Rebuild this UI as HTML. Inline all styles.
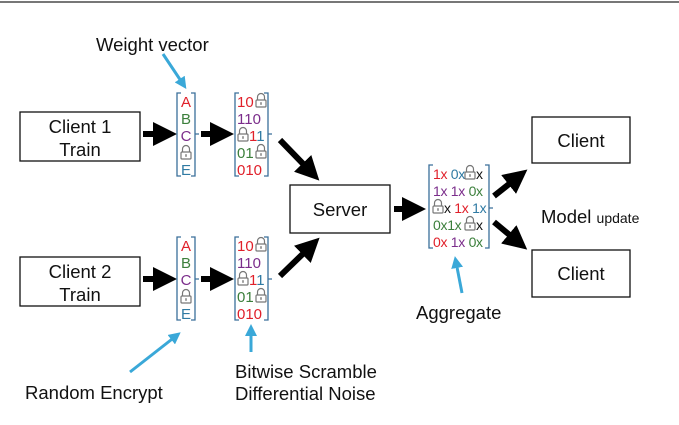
<!DOCTYPE html>
<html><head><meta charset="utf-8"><style>
html,body{margin:0;padding:0;background:#fff}
svg{display:block;font-family:"Liberation Sans",sans-serif}
.r{fill:#e0202a}.g{fill:#3b7f3b}.p{fill:#7b2d8b}.b{fill:#2f7aa3}.k{fill:#111}
</style></head><body>
<svg width="679" height="425" viewBox="0 0 679 425" xmlns="http://www.w3.org/2000/svg">
<defs>
<marker id="ah" markerWidth="4" markerHeight="4" refX="2" refY="2" orient="auto" markerUnits="strokeWidth"><path d="M0,0 L4,2 L0,4 z" fill="#000"/></marker>
<marker id="bh" markerWidth="4" markerHeight="4" refX="2" refY="2" orient="auto" markerUnits="strokeWidth"><path d="M0,0 L4,2 L0,4 z" fill="#3aa8d8"/></marker>
<g id="lk"><path d="M-3.5,0 v-3 a3.5,3.5 0 0 1 7,0 v3" fill="none" stroke="#777" stroke-width="1.2"/><rect x="-5" y="0" width="10" height="7" rx="1" fill="#fff" stroke="#777" stroke-width="1.2"/><rect x="-0.7" y="2.2" width="1.4" height="2.6" fill="#777"/></g>
</defs>
<line x1="0" y1="2" x2="679" y2="2" stroke="#777" stroke-width="2"/>
<g font-size="18.5" fill="#111">
<text x="96" y="51">Weight vector</text>
<text x="25" y="399">Random Encrypt</text>
<text x="235" y="378">Bitwise Scramble</text>
<text x="235" y="400">Differential Noise</text>
<text x="416" y="319">Aggregate</text>
<text x="541" y="223">Model <tspan font-size="14">update</tspan></text>
</g>
<g stroke="#3aa8d8" stroke-width="3">
<line x1="163" y1="54" x2="183" y2="84" marker-end="url(#bh)"/>
<line x1="130" y1="372" x2="176" y2="336" marker-end="url(#bh)"/>
<line x1="251" y1="352" x2="251" y2="330" marker-end="url(#bh)"/>
<line x1="462" y1="293" x2="456" y2="262" marker-end="url(#bh)"/>
</g>
<g fill="#fff" stroke="#111" stroke-width="1.3">
<rect x="20" y="112" width="120" height="49"/>
<rect x="20" y="257" width="120" height="49"/>
<rect x="290" y="185" width="100" height="48"/>
<rect x="532" y="117" width="98" height="46"/>
<rect x="532" y="250" width="98" height="47"/>
</g>
<g font-size="18.5" fill="#111" text-anchor="middle">
<text x="80" y="133">Client 1</text><text x="80" y="156">Train</text>
<text x="80" y="278">Client 2</text><text x="80" y="301">Train</text>
<text x="340" y="216">Server</text>
<text x="581" y="147">Client</text>
<text x="581" y="280">Client</text>
</g>
<g stroke="#000" stroke-width="6">
<line x1="143" y1="134" x2="165" y2="134" marker-end="url(#ah)"/>
<line x1="201" y1="134" x2="222" y2="134" marker-end="url(#ah)"/>
<line x1="143" y1="279" x2="165" y2="279" marker-end="url(#ah)"/>
<line x1="201" y1="279" x2="222" y2="279" marker-end="url(#ah)"/>
<line x1="280" y1="140" x2="311" y2="172" marker-end="url(#ah)"/>
<line x1="280" y1="276" x2="311" y2="246" marker-end="url(#ah)"/>
<line x1="394" y1="209" x2="414" y2="209" marker-end="url(#ah)"/>
<line x1="494" y1="196" x2="518" y2="177" marker-end="url(#ah)"/>
<line x1="494" y1="222" x2="518" y2="242" marker-end="url(#ah)"/>
</g>
<g fill="none" stroke="#3a6f9a" stroke-width="1.3">
<path d="M181,93 h-4 v83 h4 M191,93 h4 v83 h-4 M195,134 h4"/>
<path d="M181,237 h-4 v83 h4 M191,237 h4 v83 h-4 M195,279 h4"/>
<path d="M239,93 h-4 v83 h4 M264,93 h4 v83 h-4 M268,134 h4"/>
<path d="M239,237 h-4 v83 h4 M264,237 h4 v83 h-4 M268,279 h4"/>
<path d="M433,165 h-4 v83 h4 M485,165 h4 v83 h-4 M489,208 h4"/>
</g>
<g font-size="15" text-anchor="middle">
<text x="186" y="107" class="r">A</text><text x="186" y="124" class="g">B</text><text x="186" y="141" class="p">C</text><text x="186" y="175" class="b">E</text>
<text x="186" y="251" class="r">A</text><text x="186" y="268" class="g">B</text><text x="186" y="285" class="p">C</text><text x="186" y="319" class="b">E</text>
</g>
<use href="#lk" x="186" y="152"/><use href="#lk" x="186" y="296"/>
<g font-size="15">
<text x="237" y="107" class="r">10</text><use href="#lk" x="261" y="100"/>
<text x="237" y="124" class="p">110</text>
<use href="#lk" x="243" y="134"/><text x="249" y="141" class="r">1<tspan class="b">1</tspan></text>
<text x="237" y="158" class="g">01</text><use href="#lk" x="261" y="151"/>
<text x="237" y="175" class="r">010</text>
<text x="237" y="251" class="r">10</text><use href="#lk" x="261" y="244"/>
<text x="237" y="268" class="p">110</text>
<use href="#lk" x="243" y="278"/><text x="249" y="285" class="r">1<tspan class="b">1</tspan></text>
<text x="237" y="302" class="g">01</text><use href="#lk" x="261" y="295"/>
<text x="237" y="319" class="r">010</text>
</g>
<g font-size="14" letter-spacing="-0.3">
<text x="433" y="179"><tspan class="r">1x</tspan> <tspan class="b">0x</tspan></text><use href="#lk" x="470" y="172"/><text x="476" y="179" class="k">x</text>
<text x="433" y="196"><tspan class="p">1x</tspan> <tspan class="p">1x</tspan> <tspan class="g">0x</tspan></text>
<use href="#lk" x="438" y="206"/><text x="444" y="213"><tspan class="k">x</tspan> <tspan class="r">1x</tspan> <tspan class="b">1x</tspan></text>
<text x="433" y="230"><tspan class="g">0x</tspan><tspan class="g">1x</tspan></text><use href="#lk" x="470" y="223"/><text x="476" y="230" class="k">x</text>
<text x="433" y="247"><tspan class="r">0x</tspan> <tspan class="p">1x</tspan> <tspan class="g">0x</tspan></text>
</g>
</svg>
</body></html>
